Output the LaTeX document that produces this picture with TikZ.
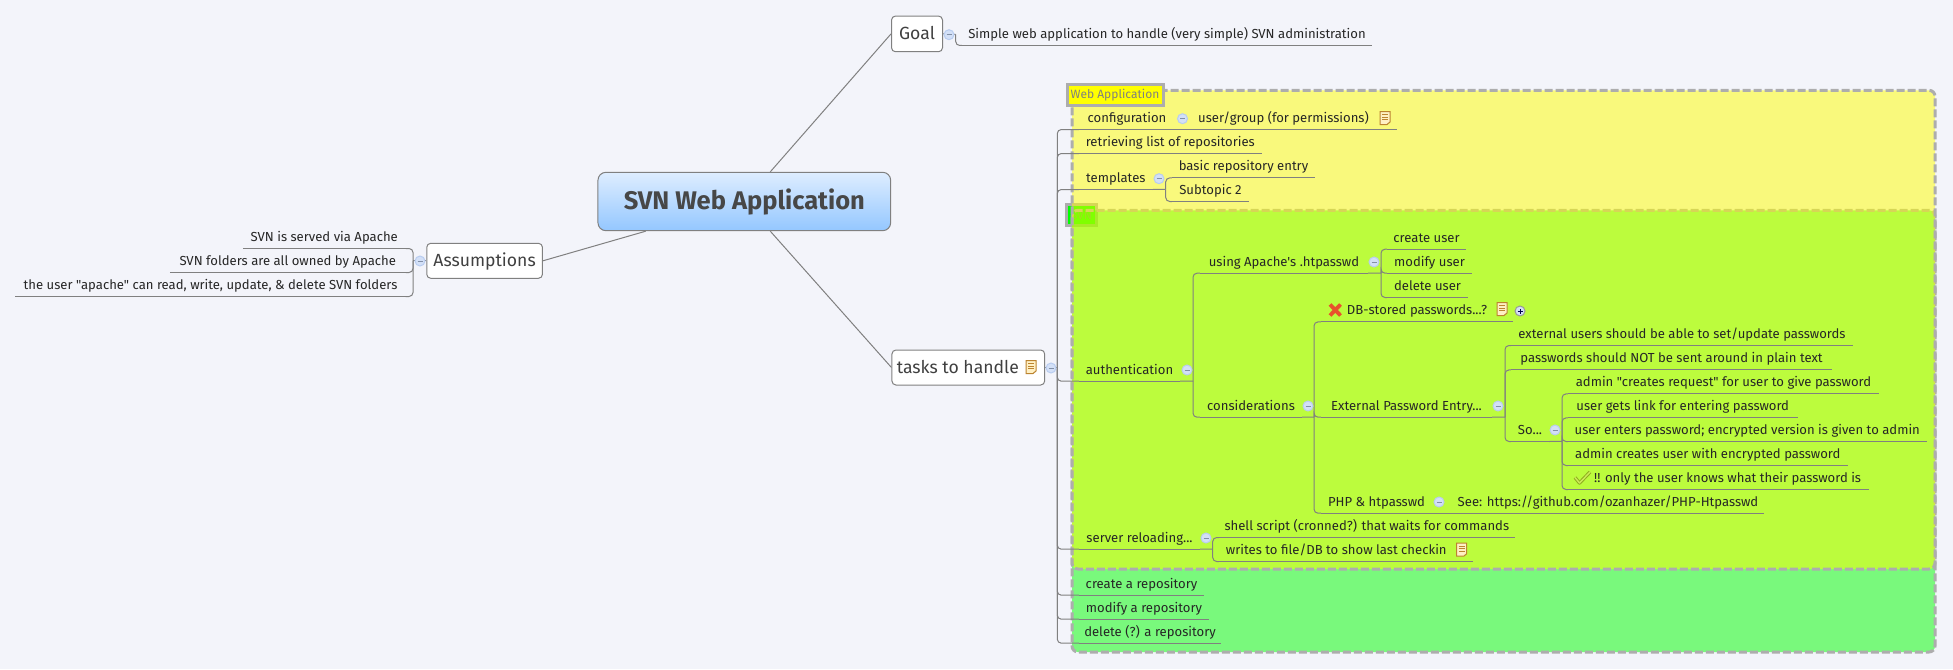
\documentclass[tikz,border=0pt]{standalone}
\usepackage{fontspec}
\setmainfont{Fira Sans}[Ligatures=TeXOff]
\definecolor{pagebg}{HTML}{F3F4FA}
\definecolor{linkgray}{HTML}{808080}
\definecolor{zonegray}{HTML}{ADADAD}
\definecolor{zoneyellow}{HTML}{FFFF00}
\definecolor{zonegreen}{HTML}{00FF00}
\definecolor{foldfill}{HTML}{D3E0F7}
\definecolor{foldline}{HTML}{B9CDF0}
\definecolor{notefill}{HTML}{FFF0C4}
\definecolor{noteline}{HTML}{BC8430}
\definecolor{rootup}{HTML}{DEEDFF}
\definecolor{rootdown}{HTML}{94C7FF}
\definecolor{crossred}{HTML}{E8522C}
\definecolor{tickdark}{HTML}{8FAD1E}
\definecolor{ticklight}{HTML}{CDEB5A}
\tikzset{
  link/.style={draw=linkgray,line width=1pt,rounded corners=4pt},
  tpc/.style={inner sep=0pt,minimum height=22pt,text height=10.5pt,text depth=2pt,text=black!85,font=\fontsize{13.1}{15}\selectfont},
  mainbox/.style={draw=linkgray,fill=white,rounded corners=4pt,line width=1pt,inner sep=0pt,text height=13pt,text depth=1pt,text=black!75,font=\fontsize{17.6}{20}\selectfont},
  rootbox/.style={draw=linkgray,rounded corners=8pt,line width=1pt,top color=rootup,bottom color=rootdown,inner sep=0pt,text=black!72,font=\fontsize{25.5}{28}\selectfont\bfseries},
  zone/.style={draw=zonegray,line width=3pt,dash pattern=on 8pt off 3pt,rounded corners=6pt,fill opacity=.5},
  zonetag/.style={draw=zonegray,line width=3pt,inner sep=0pt,text=black!50,font=\fontsize{12}{14}\selectfont},
  fold/.style={circle,draw=foldline,fill=foldfill,line width=1pt,minimum size=10pt,inner sep=0pt,
    path picture={\draw[foldline!70!black] ([xshift=-2.5pt]path picture bounding box.center) -- ([xshift=2.5pt]path picture bounding box.center);}},
  unfold/.style={fold,draw=linkgray!80,
    path picture={\draw[blue!30!black] ([xshift=-2.5pt]path picture bounding box.center) -- ([xshift=2.5pt]path picture bounding box.center);
      \draw[blue!30!black] ([yshift=-2.5pt]path picture bounding box.center) -- ([yshift=2.5pt]path picture bounding box.center);}},
  noteicon/.pic={
    \draw[noteline,fill=notefill,line width=1pt] (-5,-6.5) -- (5,-6.5) -- (5,4) -- (2,6.5) -- (-5,6.5) -- cycle;
    \foreach \row in {-3.5,-1,1.5} \draw[noteline,line width=.8pt] (-3,\row) -- (3,\row);
  }
}
\begin{document}
\begin{tikzpicture}[x=1pt,y=-1pt]
\fill[pagebg] (0,0) rectangle (1953,669);
\useasboundingbox (0,0) rectangle (1953,669);

% zones, the green one lies under the yellow one
\node[zonetag,fill=zonegreen,minimum width=30pt,minimum height=21pt] (svntag) at (1081.5,215) {SVN};
\path[zone,fill=zonegreen] (1072,210.3) rectangle (1935,652);
\path[zone,fill=zoneyellow] (1072,90.3) rectangle (1935,569);
\node[zonetag,fill=zoneyellow,minimum width=96pt,minimum height=21pt] (webtag) at (1115,95) {Web Application};

% main topics
\node[rootbox,minimum width=292.7pt,minimum height=58.4pt] (root) at (744.3,201.5) {SVN Web Application};
\node[mainbox,minimum width=51pt,minimum height=35.7pt] (goal) at (917,33.9) {Goal};
\node[mainbox,minimum width=115.7pt,minimum height=35pt] (assume) at (484.6,260.8) {Assumptions};
\node[mainbox,minimum width=152.7pt,minimum height=35pt] (tasks) at (968.3,367.5) {tasks to handle\kern21pt};
\draw[link] ([xshift=26pt]root.north) -- (goal.west);
\draw[link] ([xshift=26pt]root.south) -- (tasks.west);
\draw[link] ([xshift=-98.6pt]root.south) -- (assume.east);

% goal and assumptions
\node[tpc,minimum width=410pt] (simple) at (1167,34.3) {Simple web application to handle (very simple) SVN administration};
\node[tpc,minimum width=162.6pt] (served) at (324.3,237.3) {SVN is served via Apache};
\node[tpc,minimum width=235.6pt] (owned) at (287.8,261.3) {SVN folders are all owned by Apache};
\node[tpc,minimum width=390pt] (rights) at (210.5,285.3) {the user "apache" can read, write, update, \& delete SVN folders};

% web application
\node[tpc,minimum width=96pt] (config) at (1127,118.3) {configuration};
\node[tpc,minimum width=201.5pt] (perms) at (1296,118.3) {user/group (for permissions)\kern25pt};
\node[tpc,minimum width=182.6pt] (repos) at (1170.3,142.3) {retrieving list of repositories};
\node[tpc,minimum width=73.7pt] (tmpl) at (1115.8,178.3) {templates};
\node[tpc,minimum width=143pt] (basic) at (1243.5,166.7) {basic repository entry};
\node[tpc,minimum width=77pt] (subtwo) at (1210.5,190.3) {Subtopic 2};

% authentication
\node[tpc,minimum width=101pt] (auth) at (1129.5,370) {authentication};
\node[tpc,minimum width=168pt] (htpass) at (1284,262) {using Apache's .htpasswd};
\node[tpc,minimum width=79pt] (cuser) at (1426.5,238) {create user};
\node[tpc,minimum width=85pt] (muser) at (1429.5,262) {modify user};
\node[tpc,minimum width=81pt] (duser) at (1427.5,286.3) {delete user};
\node[tpc,minimum width=102pt] (consid) at (1251,406) {considerations};
\node[tpc,minimum width=192pt] (dbpass) at (1417,310.7) {DB-stored passwords...?};
\node[tpc,minimum width=171pt] (extern) at (1406.5,406) {External Password Entry...};
\node[tpc,minimum width=342pt] (setpw) at (1682,334.3) {external users should be able to set/update passwords};
\node[tpc,minimum width=321pt] (plain) at (1671.5,358.7) {passwords should NOT be sent around in plain text};
\node[tpc,minimum width=38pt] (sothen) at (1530,430.3) {So...};
\node[tpc,minimum width=311pt] (stepa) at (1723.5,382.7) {admin "creates request" for user to give password};
\node[tpc,minimum width=229.5pt] (stepb) at (1682.7,406.7) {user gets link for entering password};
\node[tpc,minimum width=358.6pt] (stepc) at (1747.3,430.3) {user enters password; encrypted version is given to admin};
\node[tpc,minimum width=279.6pt] (stepd) at (1707.8,454.3) {admin creates user with encrypted password};
\node[tpc,minimum width=300.8pt] (stepe) at (1718.4,478.3) {\kern18.4pt!! only the user knows what their password is};
\node[tpc,minimum width=111pt] (phpht) at (1376.5,502) {PHP \& htpasswd};
\node[tpc,minimum width=312pt] (phpurl) at (1608,502) {See: https://github.com/ozanhazer/PHP-Htpasswd};

% server and repositories
\node[tpc,minimum width=121pt] (reload) at (1139.5,538) {server reloading...};
\node[tpc,minimum width=295.7pt] (shell) at (1366.8,526.3) {shell script (cronned?) that waits for commands};
\node[tpc,minimum width=253.7pt] (writes) at (1345.8,550.3) {writes to file/DB to show last checkin\kern19pt};
\node[tpc,minimum width=125pt] (mkrepo) at (1141.5,584) {create a repository};
\node[tpc,minimum width=130pt] (edrepo) at (1144,608) {modify a repository};
\node[tpc,minimum width=142pt] (rmrepo) at (1150,632) {delete (?) a repository};

% underlines
\foreach \tp in {simple,served,owned,rights,config,perms,repos,tmpl,basic,subtwo,auth,htpass,cuser,muser,duser,consid,dbpass,extern,setpw,plain,sothen,stepa,stepb,stepc,stepd,stepe,phpht,phpurl,reload,shell,writes,mkrepo,edrepo,rmrepo}
  \draw[link] (\tp.south west) -- (\tp.south east);

% branch points
\coordinate (goalbar) at (955.7,34.3);
\coordinate (assumebar) at (413,260.8);
\coordinate (tasksbar) at (1057.3,367.5);
\coordinate (tmplbar) at (1165.7,189.3);
\coordinate (authbar) at (1193,381);
\coordinate (htbar) at (1381,273);
\coordinate (considbar) at (1314,417);
\coordinate (externbar) at (1505,417);
\coordinate (sobar) at (1562,441.3);
\coordinate (reloadbar) at (1212.7,549);

% branches
\draw[link] (goal.east) -- (goalbar);
\draw[link] (goalbar) |- (simple.south west);
\draw[link] (assume.west) -- (assumebar);
\foreach \tp in {served,owned,rights} \draw[link] (\tp.south east) -| (assumebar);
\draw[link] (tasks.east) -- (tasksbar);
\foreach \tp in {config,repos,tmpl,auth,reload,mkrepo,edrepo,rmrepo} \draw[link] (\tp.south west) -| (tasksbar);
\draw[link] (config.south east) -- (perms.south west);
\draw[link] (tmpl.south east) -- (tmplbar);
\foreach \tp in {basic,subtwo} \draw[link] (\tp.south west) -| (tmplbar);
\draw[link] (auth.south east) -- (authbar);
\foreach \tp in {htpass,consid} \draw[link] (\tp.south west) -| (authbar);
\draw[link] (htpass.south east) -- (htbar);
\foreach \tp in {cuser,muser,duser} \draw[link] (\tp.south west) -| (htbar);
\draw[link] (consid.south east) -- (considbar);
\foreach \tp in {dbpass,extern,phpht} \draw[link] (\tp.south west) -| (considbar);
\draw[link] (extern.south east) -- (externbar);
\foreach \tp in {setpw,plain,sothen} \draw[link] (\tp.south west) -| (externbar);
\draw[link] (sothen.south east) -- (sobar);
\foreach \tp in {stepa,stepb,stepc,stepd,stepe} \draw[link] (\tp.south west) -| (sobar);
\draw[link] (phpht.south east) -- (phpurl.south west);
\draw[link] (reload.south east) -- (reloadbar);
\foreach \tp in {shell,writes} \draw[link] (\tp.south west) -| (reloadbar);

% fold markers
\node[fold] (foldgoal) at (949,34.7) {};
\node[fold] (foldassume) at (420,261) {};
\node[fold] (foldtasks) at (1051,368) {};
\node[fold] (foldconfig) at (1182.5,118.7) {};
\node[fold] (foldtmpl) at (1159,178.7) {};
\node[fold] (foldauth) at (1187,370) {};
\node[fold] (foldht) at (1374,262) {};
\node[fold] (foldconsid) at (1308,406) {};
\node[fold] (foldextern) at (1498,406) {};
\node[fold] (foldso) at (1555,430) {};
\node[fold] (foldphp) at (1439,502) {};
\node[fold] (foldreload) at (1206,538) {};
\node[unfold] (folddb) at (1520,311) {};

% icons
\pic at (1031,367) {noteicon};
\pic at (1385,118) {noteicon};
\pic at (1502,309) {noteicon};
\pic at (1461.7,549.7) {noteicon};
\draw[crossred,line width=3.8pt] (1330,304.5) -- (1340.5,315.5) (1340.5,304.5) -- (1330,315.5);
\draw[tickdark,line width=3.4pt,line join=round] (1575,477.5) -- (1579.5,483) -- (1590,472);
\draw[ticklight,line width=1.4pt,line join=round] (1575,477.5) -- (1579.5,483) -- (1590,472);
\end{tikzpicture}
\end{document}
